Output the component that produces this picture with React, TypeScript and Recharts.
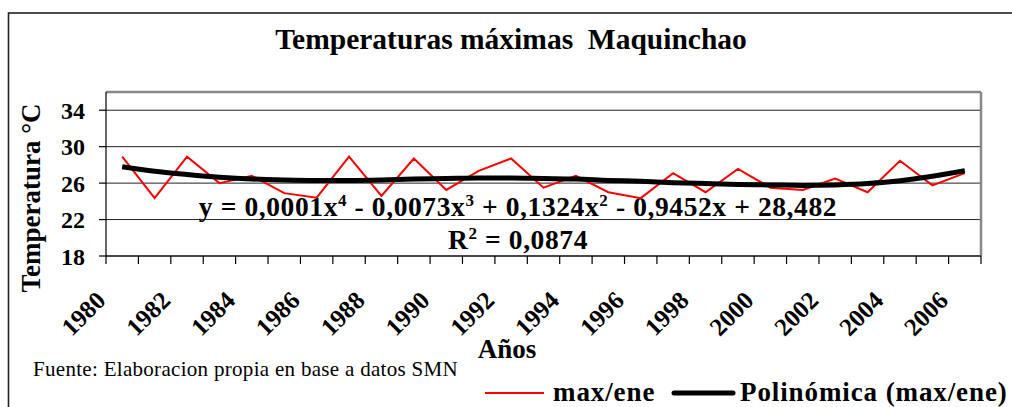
import { LineChart, Line, XAxis, YAxis, CartesianGrid, ReferenceLine, Legend } from 'recharts';

const years = [
  1980, 1981, 1982, 1983, 1984, 1985, 1986, 1987, 1988, 1989, 1990, 1991, 1992, 1993,
  1994, 1995, 1996, 1997, 1998, 1999, 2000, 2001, 2002, 2003, 2004, 2005, 2006,
];

// max/ene (°C)
const maxEne = [
  28.9, 24.35, 28.9, 26.0, 26.8, 24.9, 24.4, 28.9, 24.6, 28.7, 25.25, 27.35, 28.7, 25.5,
  26.8, 25.0, 24.35, 27.1, 25.0, 27.55, 25.5, 25.25, 26.5, 25.0, 28.45, 25.75, 27.1,
];

// Polinómica (max/ene)
const polinomica = [
  27.8, 27.3, 26.95, 26.65, 26.45, 26.35, 26.3, 26.3, 26.35, 26.45, 26.5, 26.55, 26.55, 26.5,
  26.45, 26.3, 26.2, 26.05, 25.95, 25.85, 25.8, 25.75, 25.8, 25.95, 26.25, 26.75, 27.35,
];

const yTicks = [18, 22, 26, 30, 34];
const xTickMarks = [...years, 2007];
const yearLabels = [1980, 1982, 1984, 1986, 1988, 1990, 1992, 1994, 1996, 1998, 2000, 2002, 2004, 2006];

// each year sits in the middle of its slot, labels sit on the slot edges
const data = years.map((year, i) => ({
  pos: year + 0.5,
  year,
  max: maxEne[i],
  poly: polinomica[i],
}));

const serif = '"Liberation Serif", "Times New Roman", serif';

function YearTick({ x, y, payload }: any) {
  if (!yearLabels.includes(payload.value)) return <g />;
  return (
    <text
      transform={`translate(${x + 1},${y + 36}) rotate(-45)`}
      textAnchor="end"
      fontFamily={serif}
      fontWeight="bold"
      fontSize={25}
      fill="#000"
    >
      {payload.value}
    </text>
  );
}

const legendSlots: Record<string, { x1: number; x2: number; tx: number; width: number; cap: 'butt' | 'round' }> = {
  max: { x1: 5, x2: 64, tx: 73, width: 2, cap: 'butt' },
  poly: { x1: 194, x2: 253, tx: 260, width: 5, cap: 'round' },
};

function LegendBox({ payload }: any) {
  const items = payload || [];
  return (
    <svg width={532} height={32} style={{ display: 'block' }}>
      {items.map((item: any) => {
        const s = legendSlots[item.dataKey] || legendSlots.max;
        return (
          <g key={item.dataKey}>
            <line x1={s.x1} x2={s.x2} y1={18} y2={18} stroke={item.color} strokeWidth={s.width} strokeLinecap={s.cap} />
            <text x={s.tx} y={26} fontFamily={serif} fontWeight="bold" fontSize={27} letterSpacing={0.9} fill="#000">
              {item.value}
            </text>
          </g>
        );
      })}
    </svg>
  );
}

export default function App() {
  return (
    <div style={{ position: 'absolute', left: 0, top: 0, width: 1012, height: 407, background: '#fff' }}>
      <LineChart width={1012} height={407} data={data} margin={{ top: 92, right: 31, bottom: 91, left: 46 }}>
        <rect x={8.5} y={13} width={1100} height={500} fill="none" stroke="#222" strokeWidth={1.6} />
        <text x={511} y={49} textAnchor="middle" fontFamily={serif} fontWeight="bold" fontSize={29.5} fill="#000">
          {'Temperaturas máximas \u00A0Maquinchao'}
        </text>
        <CartesianGrid horizontal vertical={false} stroke="#222" strokeWidth={1} />
        <XAxis
          dataKey="pos"
          type="number"
          domain={[1980, 2007]}
          ticks={xTickMarks}
          interval={0}
          height={60}
          tickSize={8}
          axisLine={{ stroke: '#000', strokeWidth: 1.2 }}
          tickLine={{ stroke: '#000', strokeWidth: 1.2 }}
          tick={<YearTick />}
        />
        <YAxis
          type="number"
          domain={[18, 36]}
          ticks={yTicks}
          interval={0}
          width={60}
          tickSize={7}
          tickMargin={14}
          axisLine={{ stroke: '#000', strokeWidth: 1.2 }}
          tickLine={{ stroke: '#000', strokeWidth: 1.2 }}
          tick={{ fontFamily: serif, fontWeight: 'bold', fontSize: 24, fill: '#000' }}
        />
        <ReferenceLine y={36} stroke="#888" strokeWidth={2.5} />
        <ReferenceLine x={2007} stroke="#888" strokeWidth={2.5} />
        <Line
          name="max/ene"
          dataKey="max"
          type="linear"
          stroke="#FF0000"
          strokeWidth={2}
          dot={false}
          isAnimationActive={false}
        />
        <Line
          name="Polinómica (max/ene)"
          dataKey="poly"
          type="monotone"
          stroke="#000"
          strokeWidth={5}
          dot={false}
          isAnimationActive={false}
        />
        <Legend
          layout="horizontal"
          verticalAlign="middle"
          align="center"
          content={<LegendBox />}
          wrapperStyle={{ left: 480, top: 375, width: 532, height: 32, margin: 0, padding: 0 }}
        />
        <text x={518} y={216} textAnchor="middle" fontFamily={serif} fontWeight="bold" fontSize={27.5} letterSpacing={0.6} fill="#000">
          y = 0,0001x<tspan dy={-10} fontSize={17}>4</tspan>
          <tspan dy={10}> - 0,0073x</tspan>
          <tspan dy={-10} fontSize={17}>3</tspan>
          <tspan dy={10}> + 0,1324x</tspan>
          <tspan dy={-10} fontSize={17}>2</tspan>
          <tspan dy={10}> - 0,9452x + 28,482</tspan>
        </text>
        <text x={518} y={249} textAnchor="middle" fontFamily={serif} fontWeight="bold" fontSize={27.5} letterSpacing={0.6} fill="#000">
          R<tspan dy={-10} fontSize={17}>2</tspan>
          <tspan dy={10}> = 0,0874</tspan>
        </text>
        <text
          transform="translate(31,198) rotate(-90)"
          textAnchor="middle"
          dominantBaseline="central"
          fontFamily={serif}
          fontWeight="bold"
          fontSize={27}
          fill="#000"
        >
          Temperatura °C
        </text>
        <text x={507} y={358} textAnchor="middle" fontFamily={serif} fontWeight="bold" fontSize={27} fill="#000">
          Años
        </text>
        <text x={33} y={376} fontFamily={serif} fontSize={21} letterSpacing={0.3} fill="#000">
          Fuente: Elaboracion propia en base a datos SMN
        </text>
      </LineChart>
    </div>
  );
}
